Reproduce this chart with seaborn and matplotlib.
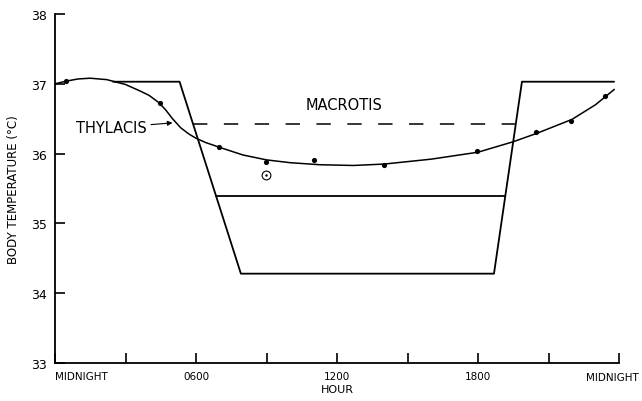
import matplotlib
matplotlib.use("Agg")
import matplotlib.pyplot as plt
import seaborn as sns
import pandas as pd

# ---- data (hours after midnight, body temperature in deg C) ----
thylacis_curve_hour = [0.0, 0.5, 1.0, 1.5, 2.2, 3.0, 3.6, 4.0, 4.4, 4.7, 5.0, 5.35, 5.7, 6.0,
                       6.4, 7.0, 8.0, 9.0, 10.0, 11.3, 12.7, 14.0, 16.0, 18.0, 19.5, 20.5,
                       22.0, 23.0, 23.8]
thylacis_curve_temp = [37.00, 37.04, 37.07, 37.08, 37.06, 36.99, 36.90, 36.835, 36.735, 36.63,
                       36.50, 36.37, 36.28, 36.22, 36.16, 36.09, 35.98, 35.91, 35.87, 35.84,
                       35.83, 35.85, 35.92, 36.02, 36.17, 36.29, 36.49, 36.70, 36.92]
thylacis_obs_hour = [0.47, 4.45, 6.98, 8.98, 11.02, 14.0, 17.96, 20.47, 21.96, 23.4]
thylacis_obs_temp = [37.04, 36.73, 36.10, 35.88, 35.91, 35.84, 36.04, 36.31, 36.47, 36.83]
thylacis_open_hour = [8.98]
thylacis_open_temp = [35.69]

macrotis_outer_hour = [2.47, 5.30, 7.91, 18.68, 19.87, 23.79]
macrotis_outer_temp = [37.03, 37.03, 34.28, 34.28, 37.03, 37.03]
macrotis_upper_hour = [6.85, 19.15]
macrotis_upper_temp = [35.39, 35.39]
macrotis_mean_hour = [5.87, 19.57]
macrotis_mean_temp = [36.42, 36.42]

xtick_pos = [0, 3, 6, 9, 12, 15, 18, 21, 24]
xtick_labels = ["MIDNIGHT", "", "0600", "", "1200", "", "1800", "", "MIDNIGHT"]
ytick_pos = [33, 34, 35, 36, 37, 38]

sns.set_style("ticks")
plt.rcParams["font.family"] = ["DejaVu Sans"]
k = "black"
plt.rcParams.update({"text.color": k, "axes.labelcolor": k,
                     "xtick.color": k, "ytick.color": k})

fig = plt.figure(figsize=(6.42, 4.02), dpi=100)
ax = fig.add_axes([55 / 642, 38 / 402, 564 / 642, 349 / 402])

sns.lineplot(data=pd.DataFrame({"h": thylacis_curve_hour, "t": thylacis_curve_temp}),
             x="h", y="t", ax=ax, color=k, lw=1.1, sort=False)
sns.scatterplot(data=pd.DataFrame({"h": thylacis_obs_hour, "t": thylacis_obs_temp}),
                x="h", y="t", ax=ax, color=k, s=14, edgecolor=k, linewidth=0, zorder=5)
sns.scatterplot(data=pd.DataFrame({"h": thylacis_open_hour, "t": thylacis_open_temp}),
                x="h", y="t", ax=ax, facecolor="white", edgecolor=k, s=40, linewidth=0.8, zorder=5)
sns.scatterplot(data=pd.DataFrame({"h": thylacis_open_hour, "t": thylacis_open_temp}),
                x="h", y="t", ax=ax, color=k, s=3, linewidth=0, zorder=6)

sns.lineplot(data=pd.DataFrame({"h": macrotis_outer_hour, "t": macrotis_outer_temp}),
             x="h", y="t", ax=ax, color=k, lw=1.3, sort=False)
sns.lineplot(data=pd.DataFrame({"h": macrotis_upper_hour, "t": macrotis_upper_temp}),
             x="h", y="t", ax=ax, color=k, lw=1.3, sort=False)
sns.lineplot(data=pd.DataFrame({"h": macrotis_mean_hour, "t": macrotis_mean_temp}),
             x="h", y="t", ax=ax, color=k, lw=1.1, sort=False,
             linestyle=(0, (9.4, 10.8)))

ax.set_xlim(0, 24)
ax.set_ylim(33, 38)
ax.set_xticks(xtick_pos)
ax.set_xticklabels(xtick_labels[:-1] + [""])
ax.set_yticks(ytick_pos)
ax.set_yticklabels([str(v) for v in ytick_pos])
xl = ax.get_xticklabels()
for lab in xl:
    lab.set_fontsize(7.5)
xl[0].set_horizontalalignment("left")
# last tick label, nudged left so it stays inside the figure
ax.annotate(xtick_labels[-1], xy=(xtick_pos[-1], 0), xycoords=("data", "axes fraction"),
            xytext=(-5, -6.3), textcoords="offset points", ha="center", va="top",
            fontsize=7.5, annotation_clip=False)
ax.tick_params(axis="x", direction="in", length=7, width=1.2, pad=6)
ax.tick_params(axis="y", direction="in", length=7, width=1.2, pad=6, labelsize=9)
sns.despine(ax=ax)
for s in ["left", "bottom"]:
    ax.spines[s].set_linewidth(1.3)
    ax.spines[s].set_color(k)

ax.set_xlabel("HOUR", fontsize=8, labelpad=2)
ax.set_ylabel("BODY TEMPERATURE (°C)", fontsize=8.5, labelpad=8)

ax.text(12.3, 36.71, "MACROTIS", fontsize=10.5, ha="center", va="center")
ax.annotate("THYLACIS", xy=(5.0, 36.44), xytext=(2.38, 36.37), fontsize=10.5,
            ha="center", va="center",
            arrowprops=dict(arrowstyle="-|>", color=k, lw=0.8, mutation_scale=7,
                            shrinkA=1, shrinkB=0))

fig.savefig("out.png", dpi=100)
